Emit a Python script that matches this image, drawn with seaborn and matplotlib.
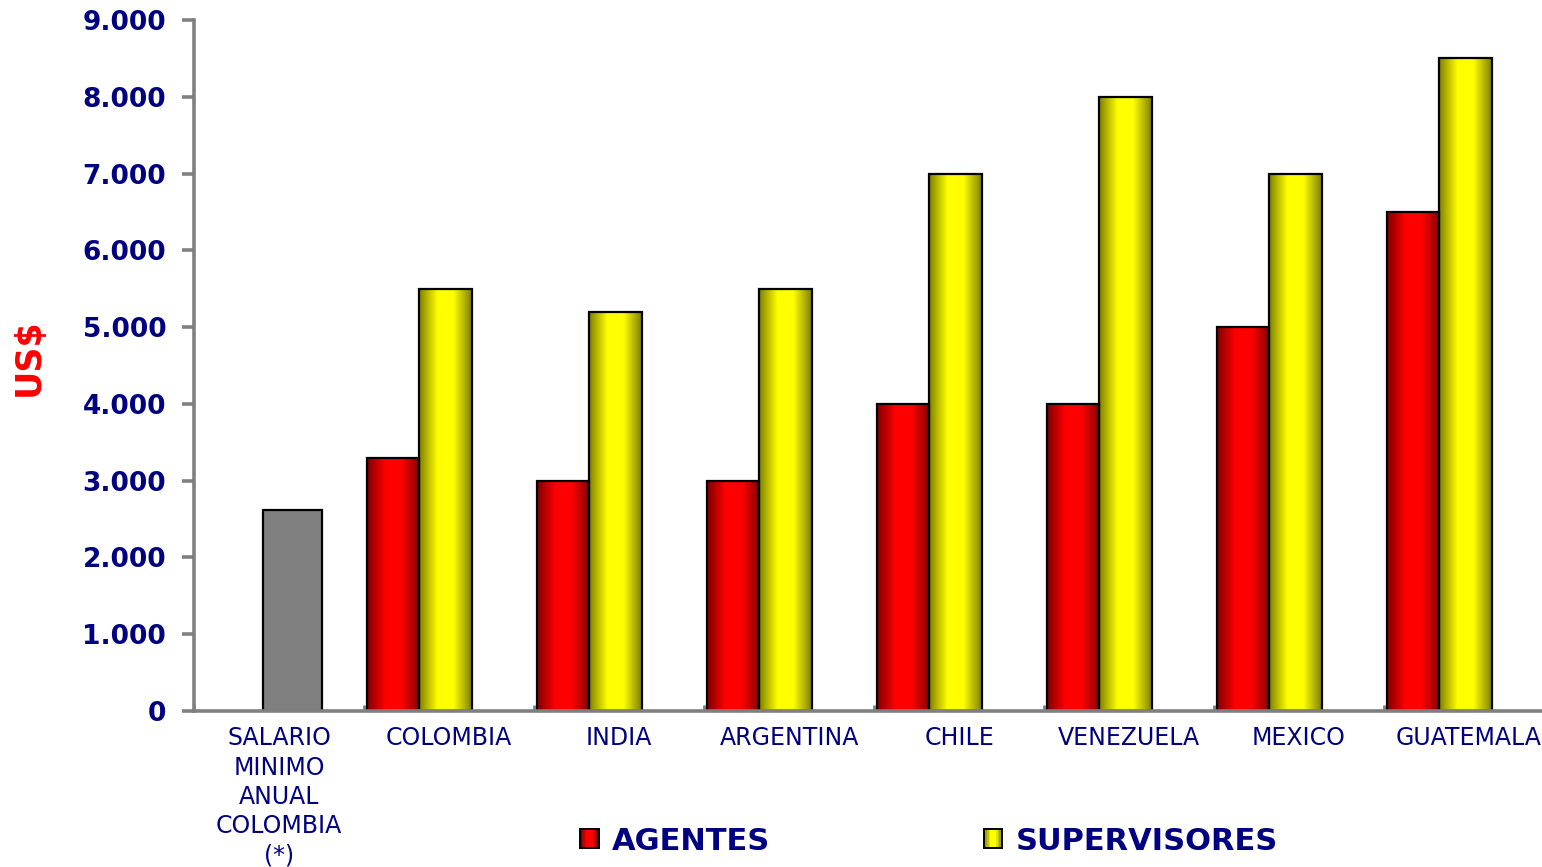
import numpy as np
import pandas as pd
import matplotlib
matplotlib.use("Agg")
import matplotlib.pyplot as plt
from matplotlib.patches import Patch, Rectangle
from matplotlib.legend_handler import HandlerBase
from matplotlib.ticker import FuncFormatter, MultipleLocator
import seaborn as sns

# Datos (US$ anuales)
categorias = ["SALARIO\nMINIMO\nANUAL\nCOLOMBIA\n(*)", "COLOMBIA", "INDIA", "ARGENTINA",
              "CHILE", "VENEZUELA", "MEXICO", "GUATEMALA"]
paises = categorias[1:]
salario_minimo = [2620]
agentes = [3300, 3000, 3000, 4000, 4000, 5000, 6500]
supervisores = [5500, 5200, 5500, 7000, 8000, 7000, 8500]

NAVY = "#000080"
GRIS = "#808080"

sns.set_style("white")
plt.rcParams["font.family"] = ["DejaVu Sans"]

fig = plt.figure(figsize=(15.42, 8.67), dpi=100)
ax = fig.add_axes([194 / 1542, 1 - 711 / 867, 1 - 194 / 1542, 691 / 867])

idx = np.arange(1, len(paises) + 1)
df_ag = pd.DataFrame({"x": idx - 0.33, "valor": agentes})
df_sup = pd.DataFrame({"x": idx - 0.02, "valor": supervisores})
df_min = pd.DataFrame({"x": [0.08], "valor": salario_minimo})

sns.barplot(data=df_min, x="x", y="valor", native_scale=True, width=0.35,
            color=GRIS, edgecolor="black", linewidth=1.6, saturation=1, errorbar=None, ax=ax)
n_min = len(ax.patches)
sns.barplot(data=df_ag, x="x", y="valor", native_scale=True, width=0.31,
            color="#ff0000", edgecolor="black", linewidth=1.6, saturation=1, errorbar=None, ax=ax)
n_ag = len(ax.patches)
sns.barplot(data=df_sup, x="x", y="valor", native_scale=True, width=0.31,
            color="#ffff00", edgecolor="black", linewidth=1.6, saturation=1, errorbar=None, ax=ax)


def brillo(n):
    # sombreado tipo cilindro: oscuro en los bordes, brillante al centro
    t = np.linspace(0, 1, n)
    d = np.abs(t - 0.5) / 0.5
    return np.where(d < 0.3, 1.0, 1.0 - 0.5 * (d - 0.3) / 0.7)


def gradiente(base, n=200):
    rgb = np.array(matplotlib.colors.to_rgb(base))
    return (brillo(n)[:, None] * rgb[None, :])[None, :, :]


for i, p in enumerate(ax.patches):
    if i < n_min:
        continue
    base = "#ff0000" if i < n_ag else "#ffff00"
    x0, y0, w, h = p.get_x(), p.get_y(), p.get_width(), p.get_height()
    im = ax.imshow(gradiente(base), extent=[x0, x0 + w, y0, y0 + h],
                   aspect="auto", zorder=p.get_zorder(), interpolation="bilinear")
    im.set_clip_path(p)
    p.set_facecolor("none")
    p.set_zorder(p.get_zorder() + 0.1)

ax.set_xlim(-0.5, -0.5 + (1542 - 194) / 170)
ax.set_ylim(0, 9000)

# ejes
for s in ["top", "right"]:
    ax.spines[s].set_visible(False)
for s in ["left", "bottom"]:
    ax.spines[s].set_color(GRIS)
    ax.spines[s].set_linewidth(2.6)

ax.yaxis.set_major_locator(MultipleLocator(1000))
ax.yaxis.set_major_formatter(FuncFormatter(lambda v, _: f"{int(v):,}".replace(",", ".")))
ax.tick_params(axis="y", direction="out", length=9, width=2.6, color=GRIS,
               labelcolor=NAVY, labelsize=19, pad=11, left=True)
for lab in ax.get_yticklabels():
    lab.set_fontweight("bold")

ax.set_xticks(range(len(categorias)))
ax.set_xticklabels(categorias, linespacing=1.28)
ax.xaxis.set_minor_locator(MultipleLocator(0.5))
ax.tick_params(axis="x", which="both", direction="in", length=4, width=2, color=GRIS,
               labelcolor=NAVY, labelsize=17, pad=11, bottom=True)
ax.set_xlabel("")

ax.set_ylabel("US$", color="#ff0000", fontsize=25, fontweight="bold")
ax.yaxis.set_label_coords((46 - 194) / 1348, (711 - 357) / 691)


# marcador de leyenda con el mismo sombreado que las barras
class HandlerGradiente(HandlerBase):
    def create_artists(self, legend, orig_handle, xdescent, ydescent, width, height, fontsize, trans):
        rgb = np.array(orig_handle.get_facecolor()[:3])
        n = 12
        arts = []
        for k, b in enumerate(brillo(n)):
            arts.append(Rectangle((-xdescent + k * width / n, -ydescent), width / n, height,
                                  facecolor=tuple(rgb * b), edgecolor="none", transform=trans))
        arts.append(Rectangle((-xdescent, -ydescent), width, height, facecolor="none",
                              edgecolor="black", linewidth=1.4, transform=trans))
        return arts


handles = [Patch(facecolor="#ff0000", label="AGENTES"),
           Patch(facecolor="#ffff00", label="SUPERVISORES")]
fig.legend(handles=handles, loc="center", bbox_to_anchor=(929 / 1542, 1 - 841 / 867), ncol=2,
           frameon=False, prop={"size": 22, "weight": "bold"}, labelcolor=NAVY,
           handlelength=0.6, handleheight=0.6, handletextpad=0.43, columnspacing=7.0,
           borderpad=0, handler_map={Patch: HandlerGradiente()})

fig.savefig("out.png", dpi=100)
